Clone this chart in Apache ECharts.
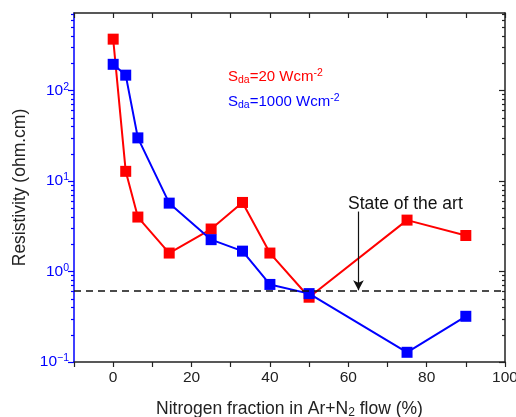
<!DOCTYPE html>
<html>
<head>
<meta charset="utf-8">
<script src="https://cdn.jsdelivr.net/npm/echarts@6/dist/echarts.min.js"></script>
<style>
  html, body { margin: 0; padding: 0; background: #fff; }
  #main { width: 516px; height: 417px; }
</style>
</head>
<body>
<div id="main"></div>
<script>
// 氮气比例 (%)
var nFraction = [0, 3.2, 6.3, 14.3, 25, 33, 40, 50, 75, 90];
// 电阻率 Sda=20 Wcm-2
var resLow = [370, 12.8, 4.0, 1.6, 2.95, 5.8, 1.6, 0.52, 3.7, 2.5];
// 电阻率 Sda=1000 Wcm-2
var resHigh = [195, 148, 30, 5.7, 2.25, 1.68, 0.72, 0.57, 0.128, 0.32];
// state of the art level
var stateOfArt = 0.62;
var arrowX = 62.6;
var arrowTop = 4.6;
// y tick values
var majorTicks = [0.1, 1, 10, 100];
var minorTicks = [0.2, 0.3, 0.4, 0.5, 0.6, 0.7, 0.8, 0.9,
                  2, 3, 4, 5, 6, 7, 8, 9,
                  20, 30, 40, 50, 60, 70, 80, 90,
                  200, 300, 400, 500, 600, 700];

var FONT = 'Liberation Sans';
var BLUE = '#0000ff';
var RED = '#ff0000';

function toPairs(xs, ys) {
  var out = [];
  for (var i = 0; i < xs.length; i++) out.push([xs[i], ys[i]]);
  return out;
}

function powLabel(v) {
  var e = Math.round(Math.log10(v));
  return '{b|10}{sup|' + String(e).replace('-', '\u2212') + '}';
}

function logAxis(pos, opts) {
  var ax = {
    type: 'log',
    logBase: 10,
    min: 0.1,
    max: 720,
    position: pos,
    splitLine: { show: false },
    axisLine: { show: false, onZero: false },
    axisTick: { show: false },
    axisLabel: { show: false }
  };
  for (var k in opts) ax[k] = opts[k];
  return ax;
}

var chart = echarts.init(document.getElementById('main'));

var option = {
  animation: false,
  grid: { left: 74, right: 11, top: 13, bottom: 55, outerBoundsMode: 'none', containLabel: false },
  textStyle: { fontFamily: FONT },
  xAxis: [{
    type: 'value',
    min: -10,
    max: 100,
    interval: 10,
    position: 'bottom',
    splitLine: { show: false },
    axisLine: { onZero: false, lineStyle: { color: '#222', width: 1.5 } },
    axisTick: { length: 5, lineStyle: { color: '#222', width: 1.2 } },
    axisLabel: {
      color: '#222', fontSize: 15.5, fontFamily: FONT, margin: 8,
      formatter: function (v) { return (v % 20 === 0 && v >= 0) ? String(v) : ''; }
    },
    name: '{n|Nitrogen fraction in Ar+N}{sub|2}{n| flow (%)}',
    nameLocation: 'middle',
    nameGap: 37,
    nameTextStyle: {
      rich: {
        n: { fontSize: 17.5, color: '#222', fontFamily: FONT, lineHeight: 20 },
        sub: { fontSize: 12, color: '#222', fontFamily: FONT, verticalAlign: 'bottom', lineHeight: 11 }
      }
    }
  }, {
    type: 'value',
    min: -10,
    max: 100,
    interval: 10,
    position: 'top',
    splitLine: { show: false },
    axisLine: { onZero: false, lineStyle: { color: '#222', width: 1.5 } },
    axisTick: { inside: true, length: 5, lineStyle: { color: '#222', width: 1.2 } },
    axisLabel: { show: false }
  }],
  yAxis: [
    logAxis('left', {
      axisLine: { show: true, onZero: false, lineStyle: { color: BLUE, width: 1.5 } },
      axisTick: { show: true, length: 6, customValues: majorTicks, lineStyle: { color: BLUE, width: 1.2 } },
      axisLabel: {
        show: true,
        customValues: majorTicks,
        margin: 5,
        formatter: powLabel,
        rich: {
          b: { fontSize: 15.5, color: BLUE, fontFamily: FONT, lineHeight: 18 },
          sup: { fontSize: 10.5, color: BLUE, fontFamily: FONT, verticalAlign: 'top', lineHeight: 10 }
        }
      },
      name: 'Resistivity (ohm.cm)',
      nameLocation: 'middle',
      nameGap: 41,
      nameTextStyle: { fontSize: 17.5, color: '#222', fontFamily: FONT }
    }),
    logAxis('left', {
      axisTick: { show: true, length: 3, customValues: minorTicks, lineStyle: { color: BLUE, width: 1.2 } }
    }),
    logAxis('right', {
      axisLine: { show: true, onZero: false, lineStyle: { color: '#222', width: 1.5 } },
      axisTick: { show: true, inside: true, length: 6, customValues: majorTicks, lineStyle: { color: '#222', width: 1.2 } }
    }),
    logAxis('right', {
      axisTick: { show: true, inside: true, length: 3, customValues: minorTicks, lineStyle: { color: '#222', width: 1.2 } }
    })
  ],
  series: [{
    name: 'Sda=20',
    type: 'line',
    data: toPairs(nFraction, resLow),
    symbol: 'rect',
    symbolSize: 11,
    itemStyle: { color: RED },
    lineStyle: { color: RED, width: 2 },
    z: 3,
    markLine: {
      silent: true,
      symbol: 'none',
      label: { show: false },
      lineStyle: { color: '#111', type: [7, 5], width: 1.5 },
      data: [{ yAxis: stateOfArt }]
    }
  }, {
    name: 'Sda=1000',
    type: 'line',
    data: toPairs(nFraction, resHigh),
    symbol: 'rect',
    symbolSize: 11,
    itemStyle: { color: BLUE },
    lineStyle: { color: BLUE, width: 2 },
    z: 4,
    markLine: {
      silent: true,
      symbol: ['none', 'arrow'],
      symbolSize: [8, 10],
      label: { show: false },
      lineStyle: { color: '#111', type: 'solid', width: 1.2 },
      data: [[{ coord: [arrowX, arrowTop] }, { coord: [arrowX, stateOfArt] }]]
    }
  }],
  graphic: [{
    type: 'text',
    left: 228,
    top: 68,
    style: {
      text: '{r|S}{rs|da}{r|=20 Wcm}{rp|-2}',
      rich: {
        r: { fontSize: 15, fill: RED, fontFamily: FONT, lineHeight: 18 },
        rs: { fontSize: 10.5, fill: RED, fontFamily: FONT, verticalAlign: 'bottom', lineHeight: 10 },
        rp: { fontSize: 10.5, fill: RED, fontFamily: FONT, verticalAlign: 'top', lineHeight: 10 }
      }
    }
  }, {
    type: 'text',
    left: 228,
    top: 93,
    style: {
      text: '{r|S}{rs|da}{r|=1000 Wcm}{rp|-2}',
      rich: {
        r: { fontSize: 15, fill: BLUE, fontFamily: FONT, lineHeight: 18 },
        rs: { fontSize: 10.5, fill: BLUE, fontFamily: FONT, verticalAlign: 'bottom', lineHeight: 10 },
        rp: { fontSize: 10.5, fill: BLUE, fontFamily: FONT, verticalAlign: 'top', lineHeight: 10 }
      }
    }
  }, {
    type: 'text',
    left: 348,
    top: 195,
    style: { text: 'State of the art', fontSize: 17.5, fill: '#111', fontFamily: FONT }
  }]
};

chart.setOption(option);
</script>
</body>
</html>
